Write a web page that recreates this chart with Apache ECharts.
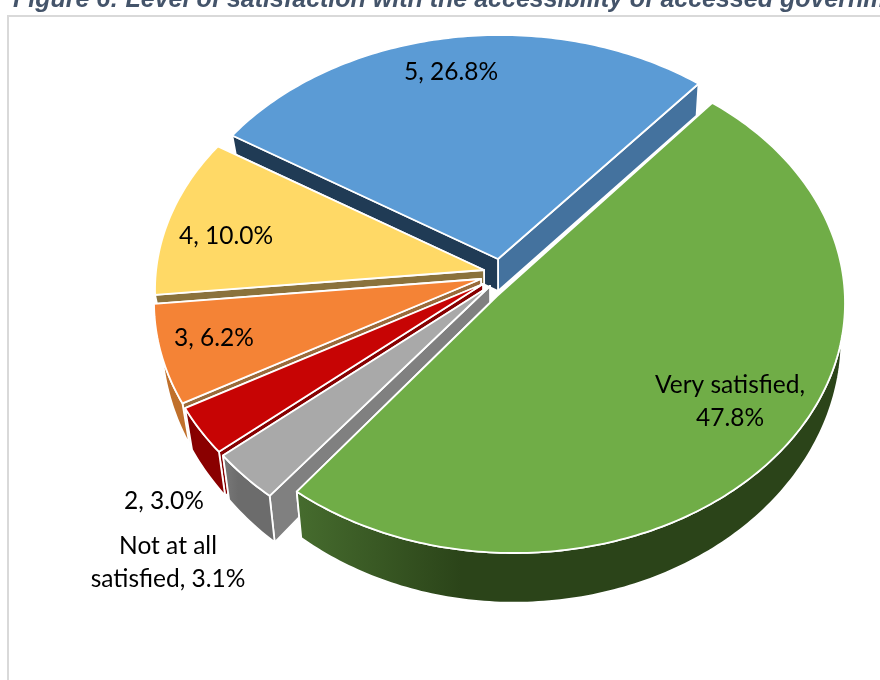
<!DOCTYPE html>
<html><head><meta charset="utf-8">
<style>html,body{margin:0;padding:0;background:#fff}#c{width:880px;height:680px}</style>
<script src="https://cdn.jsdelivr.net/npm/echarts@6/dist/echarts.min.js"></script>
</head><body><div id="c"></div>
<script>
// DATA
const categories = ['Not at all satisfied', '2', '3', '4', '5', 'Very satisfied'];
const shares = [3.1, 3.0, 6.2, 10.0, 26.8, 47.8];
const labelLines = [['Not at all', 'satisfied, 3.1%'], ['2, 3.0%'], ['3, 6.2%'], ['4, 10.0%'], ['5, 26.8%'], ['Very satisfied,', '47.8%']];

// LAYOUT / STYLE
const startDeg = 218.6;
const paintOrder = [4, 3, 2, 1, 0, 5];
const apex = [[490, 286], [483, 284], [481, 279], [484, 270], [498, 259], [497, 296]];
const ellipseAt = [[494, 312], [486, 304], [485, 302], [486, 290], [500, 279], [514, 303]];
const radiusY = [250, 250, 250, 245, 244, 250];
const radiusX = 331;
const dirAspect = [0.76, 0.76, 0.76, 0.76, 0.76, 0.78];
const labelAt = [[168, 546], [164, 501], [214, 338], [226, 236], [451, 72], [730, 385]];
const topFill = ['#A9A9A9', '#C70404', '#F48336', '#FFD966', '#5B9BD5', '#70AD47'];
const startWall = ['#808080', '#860000', '#9A6A3A', '#8A723C', '#203B55', '#3F6029'];
const endWall = ['#808080', '#860000', '#9A6A3A', '#8A723C', '#44729E', '#3F6029'];
const outerA = ['#6C6C6C', '#8A0000', '#C0702C', '#A08040', '#44729E', '#2B4419'];
const outerB = ['#7A7A7A', '#7C0000', '#B4622A', '#A08040', '#44729E', '#466C2E'];

// ray from the slice's apex, in the direction of the data angle, meets the slice's ellipse
function rim(i, rad) {
  const c = apex[i], e = ellipseAt[i], rx = radiusX, ry = radiusY[i];
  const dx = Math.sin(rad), dy = -Math.cos(rad) * dirAspect[i];
  const ox = (c[0] - e[0]) / rx, oy = (c[1] - e[1]) / ry, ux = dx / rx, uy = dy / ry;
  const qa = ux * ux + uy * uy, qb = 2 * (ox * ux + oy * uy), qc = ox * ox + oy * oy - 1;
  const t = (-qb + Math.sqrt(qb * qb - 4 * qa * qc)) / (2 * qa);
  return [c[0] + dx * t, c[1] + dy * t];
}
function drop(p) {
  const dy = p[1] <= 259 ? 32 : 33 + 0.057 * (p[1] - 259);
  const dx = (500 - p[0]) * (p[0] < 500 ? 0.022 : 0.01);
  return [p[0] + dx, p[1] + dy];
}
const total = shares.reduce((s, v) => s + v, 0);
const cum = [];
shares.reduce((s, v, i) => { cum[i] = s; return s + v; }, 0);

function renderItem(params, api) {
  const i = api.value(0), share = api.value(1);
  const a0 = (startDeg + cum[i] / total * 360) * Math.PI / 180;
  const a1 = a0 + share / total * 2 * Math.PI;
  const c = apex[i], arc = [];
  const n = Math.max(8, Math.round((a1 - a0) * 60));
  for (let k = 0; k <= n; k++) arc.push(rim(i, a0 + (a1 - a0) * k / n));
  const low = arc.map(drop), cLow = drop(c);
  const line = { stroke: '#fff', lineWidth: 1.8, lineJoin: 'round' };
  const poly = (points, fill) => ({ type: 'polygon', shape: { points }, style: Object.assign({ fill }, line) });
  const outer = poly(arc.concat(low.slice().reverse()), new echarts.graphic.LinearGradient(0, 0, 1, 0, [
    { offset: 0, color: outerB[i] }, { offset: 0.3, color: outerA[i] }, { offset: 1, color: outerA[i] }]));
  const wallA = poly([c, arc[0], low[0], cLow], startWall[i]);
  const wallB = poly([c, arc[n], low[n], cLow], endWall[i]);
  const walls = arc[0][1] > arc[n][1] ? [wallB, wallA] : [wallA, wallB];
  const farSide = Math.cos((a0 + a1) / 2) > 0;
  const children = (farSide ? [outer].concat(walls) : walls.concat([outer]));
  children.push(poly([c].concat(arc), topFill[i]));
  labelLines[i].forEach((t, j) => children.push({
    type: 'text', z2: 100,
    style: { text: t, x: labelAt[i][0], y: labelAt[i][1] + j * 33, fill: '#000',
      font: '24.5px Lato', textAlign: 'center', textVerticalAlign: 'middle' }
  }));
  return { type: 'group', children };
}

const chart = echarts.init(document.getElementById('c'), null, { renderer: 'canvas' });
chart.setOption({
  animation: false,
  backgroundColor: '#fff',
  title: { text: 'Figure 6: Level of satisfaction with the accessibility of accessed government websites', left: 8, top: -17,
    textStyle: { fontFamily: 'Liberation Sans', fontWeight: 'bold', fontStyle: 'italic', fontSize: 25, color: '#44546A' } },
  graphic: [{ type: 'rect', z: -1, shape: { x: 8, y: 16, width: 1000, height: 800 }, style: { fill: '#fff', stroke: '#D9D9D9', lineWidth: 2 } }],
  series: [{ type: 'custom', coordinateSystem: 'none', silent: true, clip: false, renderItem,
    encode: { value: 1 }, dimensions: ['index', 'share'],
    data: paintOrder.map(i => ({ name: categories[i], value: [i, shares[i]] })) }]
});
</script></body></html>
